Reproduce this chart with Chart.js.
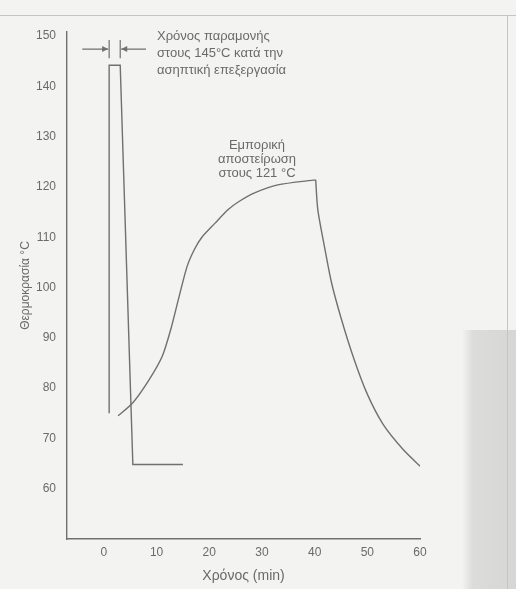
<!DOCTYPE html>
<html>
<head>
<meta charset="utf-8">
<script src="https://cdn.jsdelivr.net/npm/chart.js@4/dist/chart.umd.min.js"></script>
<style>
  body { margin: 0; background: #f3f3f1; }
  canvas { display: block; }
</style>
</head>
<body>
<canvas id="chart" width="516" height="589"></canvas>
<script>
// UHT (ασηπτική) – στενός παλμός στους 145 °C
const uhtTime = [1.0, 1.0, 3.1, 5.5, 15];
const uhtTemp = [75, 144.2, 144.2, 64.8, 64.8];

// Εμπορική αποστείρωση στους 121 °C – άνοδος και ψύξη
const heatTime = [2.7, 5.5, 8.6, 11.1, 12.7, 14.3, 15.8, 17.2, 18.6, 21.1, 23.6, 25.5, 28.6, 33, 40.2];
const heatTemp = [74.5, 77.1, 81.7, 86.4, 91.7, 98.3, 104.2, 107.6, 110, 112.8, 115.5, 117, 118.8, 120.4, 121.4];
const coolTime = [40.2, 40.6, 41.8, 43.2, 45, 47.4, 50, 53, 56.8, 60.2];
const coolTemp = [121.4, 115.5, 108.5, 101, 94, 86, 78.8, 72.8, 67.8, 64.3];

const xTicks = [0, 10, 20, 30, 40, 50, 60];
const yTicks = [60, 70, 80, 90, 100, 110, 120, 130, 140, 150];

const LINE = '#707070';
const TEXT = '#6a6a6a';
const FONT = "'Liberation Sans', Arial, sans-serif";

const toPoints = (xs, ys) => xs.map((x, i) => ({ x: x, y: ys[i] }));

// χαρτί σελίδας + σημειώσεις
const pagePlugin = {
    id: 'page',
    beforeDraw(chart) {
        const c = chart.ctx;
        c.save();
        c.fillStyle = '#f3f3f1';
        c.fillRect(0, 0, chart.width, chart.height);
        const g = c.createLinearGradient(462, 0, 516, 0);
        g.addColorStop(0, 'rgba(220,220,218,0)');
        g.addColorStop(0.2, 'rgba(220,220,218,1)');
        g.addColorStop(1, 'rgba(214,214,212,1)');
        c.fillStyle = g;
        c.fillRect(462, 330, 54, 259);
        c.strokeStyle = '#c4c4c2';
        c.lineWidth = 1;
        c.beginPath();
        c.moveTo(0, 15.5); c.lineTo(516, 15.5);
        c.moveTo(507.5, 15); c.lineTo(507.5, 589);
        c.stroke();
        c.restore();
    },
    afterDatasetsDraw(chart) {
        const c = chart.ctx;
        const xs = chart.scales.x, ys = chart.scales.y;
        const px = v => xs.getPixelForValue(v);
        const py = v => ys.getPixelForValue(v);
        c.save();
        c.strokeStyle = LINE;
        c.fillStyle = LINE;
        c.lineWidth = 1.2;

        const aY = py(147.4);
        const l = px(1.0), r = px(3.1);
        // κάθετα σημάδια
        c.beginPath();
        c.moveTo(l, py(149.2)); c.lineTo(l, py(145.6));
        c.moveTo(r, py(149.2)); c.lineTo(r, py(145.6));
        // βέλη
        c.moveTo(px(-4.1), aY); c.lineTo(l - 1, aY);
        c.moveTo(px(8.0), aY); c.lineTo(r + 1, aY);
        c.stroke();
        c.beginPath();
        c.moveTo(l - 1, aY); c.lineTo(l - 7, aY - 3); c.lineTo(l - 7, aY + 3); c.closePath();
        c.moveTo(r + 1, aY); c.lineTo(r + 7, aY - 3); c.lineTo(r + 7, aY + 3); c.closePath();
        c.fill();

        c.fillStyle = TEXT;
        c.textBaseline = 'middle';
        c.font = '13px ' + FONT;
        c.textAlign = 'left';
        c.fillText('Χρόνος παραμονής', 157, 36);
        c.fillText('στους 145°C κατά την', 157, 53);
        c.fillText('ασηπτική επεξεργασία', 157, 70);

        c.textAlign = 'center';
        c.fillText('Εμπορική', 257, 145);
        c.fillText('αποστείρωση', 257, 159);
        c.fillText('στους 121 °C', 257, 173);
        c.restore();
    }
};

const lineStyle = {
    borderColor: LINE,
    borderWidth: 1.4,
    pointRadius: 0,
    fill: false
};

const ctx = document.getElementById('chart').getContext('2d');
const chart = new Chart(ctx, {
    type: 'line',
    data: {
        datasets: [
            { label: 'UHT', data: toPoints(uhtTime, uhtTemp), tension: 0, ...lineStyle },
            { label: 'Θέρμανση', data: toPoints(heatTime, heatTemp), tension: 0.25, ...lineStyle },
            { label: 'Ψύξη', data: toPoints(coolTime, coolTemp), tension: 0.25, ...lineStyle }
        ]
    },
    options: {
        responsive: false,
        animation: false,
        devicePixelRatio: 1,
        layout: { padding: { top: 32, right: 96, bottom: 0, left: 0 } },
        plugins: {
            legend: { display: false },
            tooltip: { enabled: false }
        },
        scales: {
            x: {
                type: 'linear',
                min: -7,
                max: 60,
                afterBuildTicks: s => { s.ticks = xTicks.map(v => ({ value: v })); },
                afterFit: s => { s.height = 50; },
                grid: { display: false, drawTicks: false },
                border: { display: true, color: LINE, width: 1.4 },
                ticks: { color: TEXT, font: { family: FONT, size: 12 }, padding: 6, maxRotation: 0 },
                title: { display: true, text: 'Χρόνος (min)', color: TEXT, font: { family: FONT, size: 14 }, padding: { top: 3 } }
            },
            y: {
                type: 'linear',
                min: 50,
                max: 150.8,
                afterBuildTicks: s => { s.ticks = yTicks.map(v => ({ value: v })); },
                afterFit: s => { s.width = 67; },
                grid: { display: false, drawTicks: false },
                border: { display: true, color: LINE, width: 1.4 },
                ticks: { color: TEXT, font: { family: FONT, size: 12 }, padding: 11 },
                title: { display: true, text: 'Θερμοκρασία °C', color: TEXT, font: { family: FONT, size: 12 }, padding: { top: 18, bottom: 0 } }
            }
        }
    },
    plugins: [pagePlugin]
});
</script>
</body>
</html>
